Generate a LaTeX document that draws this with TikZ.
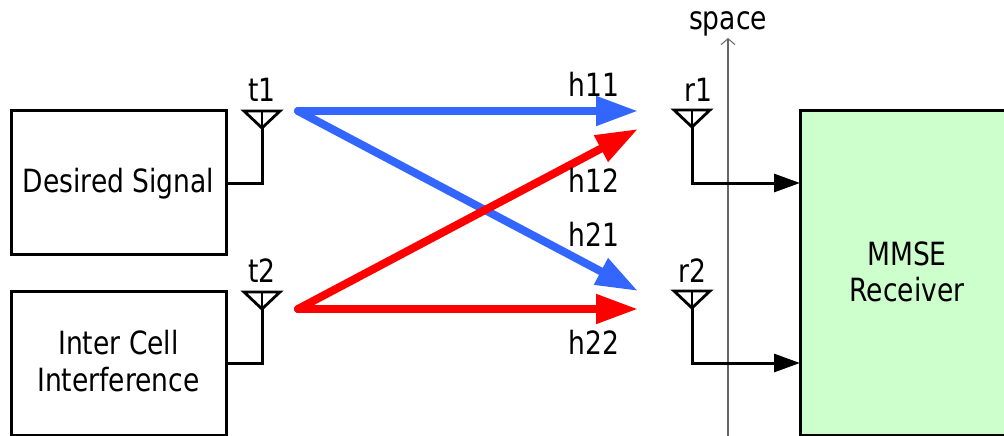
\documentclass[tikz,border=0pt]{standalone}
\usepackage{fontspec}
\setmainfont[FakeStretch=0.83]{DejaVu Sans}
\usetikzlibrary{arrows.meta}
\definecolor{sigblue}{HTML}{3366FF}
\definecolor{rxgreen}{HTML}{CCFFCC}
\tikzset{
  x=1pt,y=-1pt,
  blockbox/.style={draw=black,line width=3pt,fill=white,inner sep=0pt},
  blocktext/.style={inner sep=0pt,align=center,font=\fontsize{32}{37}\selectfont},
  lbl/.style={inner sep=0pt,font=\fontsize{32}{36}\selectfont},
  wire/.style={draw=black,line width=3pt,line join=miter},
  feed/.style={wire,-{Triangle[length=26pt,width=18pt]}},
  chan/.style={line width=8pt,line cap=round,-{Triangle[length=42pt,width=28pt]}},
  axis/.style={draw=black!60,line width=1.3pt,-{Straight Barb[length=6pt,width=14pt,line width=1pt]}}
}
\begin{document}
\begin{tikzpicture}
\useasboundingbox (0,0) rectangle (1004,436);
\node[blockbox,minimum width=215pt,minimum height=144pt] (ds) at (118.5,182) {};
\node[blocktext] (dsl) at (118.5,184) {Desired Signal};
\node[blockbox,minimum width=215pt,minimum height=144pt] (ic) at (118.5,363) {};
\node[blocktext] (icl) at (118.5,361) {Inter Cell\\Interference};
\node[blockbox,fill=rxgreen,minimum width=214pt,minimum height=325pt] (rx) at (907,272.5) {};
\node[blocktext,font=\fontsize{32}{36}\selectfont] (rxl) at (907,271.5) {MMSE\\Receiver};
% antennas
\foreach \n/\cx/\ty in {t1/262/111,t2/262/292,r1/692/110,r2/692/291}{
  \coordinate (\n top) at (\cx,\ty);
  \coordinate (\n tip) at (\cx,\ty+17);
  \coordinate (\n a) at (\cx-18,\ty);
  \coordinate (\n b) at (\cx+18,\ty);
  \draw[wire,line width=2.8pt] (\n a) -- (\n b) -- (\n tip) -- cycle;
  \draw[wire,line width=2.8pt] (\n top) -- (\n tip);
}
\coordinate (t1j) at (262,183);
\coordinate (t2j) at (262,363);
\coordinate (r1j) at (692,183);
\coordinate (r2j) at (692,363);
\coordinate (r1e) at (800,183);
\coordinate (r2e) at (800,363);
% axis
\coordinate (ax0) at (728,436);
\coordinate (ax1) at (728,38);
\draw[axis] (ax0) -- (ax1);
\node[lbl] (space) at (728,24) {space};
% wires
\draw[wire] (ds.east |- t1j) -- (t1j) -- (t1tip);
\draw[wire] (ic.east |- t2j) -- (t2j) -- (t2tip);
\draw[feed] (r1tip) -- (r1j) -- (r1e);
\draw[feed] (r2tip) -- (r2j) -- (r2e);
% channels
\coordinate (s1) at (298,111);
\coordinate (s2) at (298,309);
\coordinate (d11) at (638,111);
\coordinate (d12) at (638,129);
\coordinate (d21) at (638,291);
\coordinate (d22) at (638,309);
\draw[chan,color=sigblue] (s1) -- (d11);
\draw[chan,color=sigblue] (s1) -- (d21);
\draw[chan,color=red] (s2) -- (d12);
\draw[chan,color=red] (s2) -- (d22);
% labels
\node[lbl] (h11) at (594,84) {h11};
\node[lbl] (h12) at (594,180) {h12};
\node[lbl] (h21) at (594,234) {h21};
\node[lbl] (h22) at (594,342) {h22};
\node[lbl] (t1) at (262,90) {t1};
\node[lbl] (t2) at (262,271) {t2};
\node[lbl] (r1) at (698,90) {r1};
\node[lbl] (r2) at (692,271) {r2};
\end{tikzpicture}
\end{document}
